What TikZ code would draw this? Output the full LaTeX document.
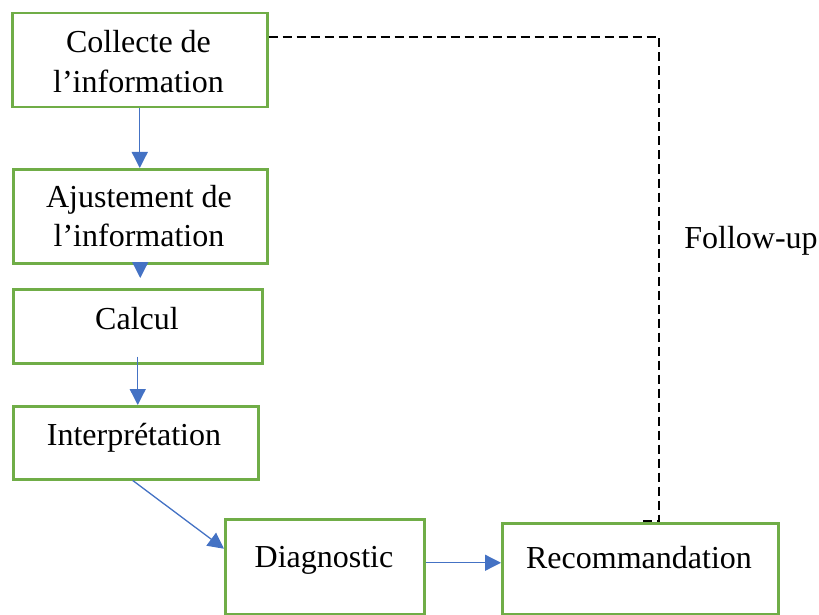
\documentclass[tikz,border=0pt]{standalone}
\usepackage{fontspec}
\setmainfont{Liberation Serif}
\usetikzlibrary{arrows.meta}
\definecolor{boxgreen}{HTML}{70AD47}
\definecolor{arrblue}{HTML}{4472C4}
\tikzset{
  box/.style={draw=boxgreen, line width=2.5pt, rectangle, inner sep=0pt, anchor=north west},
  txt/.style={inner sep=0pt, anchor=base, font=\fontsize{32}{39.5}\selectfont},
  arr/.style={draw=arrblue, line width=1.3pt, -{Triangle[width=16pt,length=16pt]}},
  follow/.style={draw=black, line width=2pt, dash pattern=on 9pt off 5pt}
}
\begin{document}
\begin{tikzpicture}[x=1pt, y=-1pt]
\useasboundingbox (0,0) rectangle (819,615);
% boxes
\node[box, minimum width=255pt, minimum height=94pt] (b1) at (11,12) {};
\node[box, minimum width=254pt, minimum height=94pt] (b2) at (12,168) {};
\node[box, minimum width=249pt, minimum height=74pt] (b3) at (12,288) {};
\node[box, minimum width=245pt, minimum height=73pt] (b4) at (12,405) {};
\node[box, minimum width=199pt, minimum height=95pt] (b5) at (224,518) {};
\node[box, minimum width=276pt, minimum height=91pt] (b6) at (501,522) {};
% texts
\node[txt] (t1) at (138.5,53) {\begin{tabular}[t]{@{}c@{}}Collecte de\\l’information\end{tabular}};
\node[txt] (t2) at (139,207) {\begin{tabular}[t]{@{}c@{}}Ajustement de\\l’information\end{tabular}};
\node[txt] (t3) at (137,329) {Calcul};
\node[txt] (t4) at (134,445) {Interprétation};
\node[txt] (t5) at (324,567) {Diagnostic};
\node[txt] (t6) at (639,568) {Recommandation};
\node[txt] (t7) at (751,248) {Follow-up};
% arrows
\draw[arr] (b1.south) -- (b1.south |- b2.north);
\draw[arr] (b2.south) -- ([yshift=10pt]b2.south |- b3.north);
\draw[arr] ([yshift=8pt]b3.south) -- (b3.south |- b4.north);
\draw[arr] ([xshift=-3pt]b4.south) -- ([yshift=18pt]b5.west);
\draw[arr] ([yshift=4pt]b5.east) -- ([yshift=4pt]b5.east -| b6.west);
% follow-up dashed connector
\draw[follow] ([yshift=23pt]b1.east) -| ([xshift=19pt,yshift=1pt]b6.north) -- ([yshift=1pt]b6.north);
\end{tikzpicture}
\end{document}
